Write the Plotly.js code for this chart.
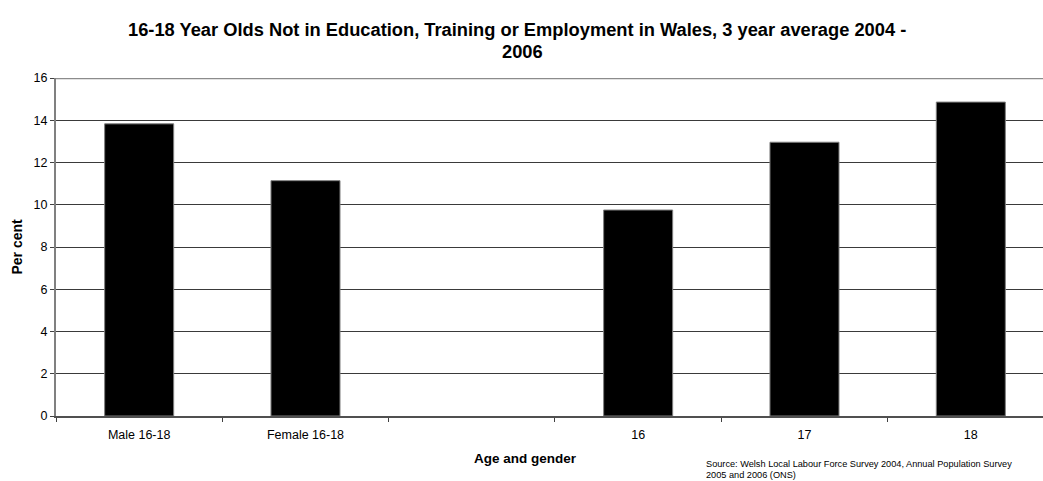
<!DOCTYPE html>
<html>
<head>
<meta charset="utf-8">
<script src="https://cdn.plot.ly/plotly-3.0.1.min.js"></script>
<style>
  html, body { margin: 0; padding: 0; background: #fff; }
  #chart { width: 1043px; height: 481px; }
</style>
</head>
<body>
<div id="chart"></div>
<script>
// Data
const categories = ["Male 16-18", "Female 16-18", " ", "16", "17", "18"];
const perCent = [13.83, 11.14, null, 9.75, 12.96, 14.86];
const yTickValues = [0, 2, 4, 6, 8, 10, 12, 14, 16];

const titleLines = ["16-18 Year Olds Not in Education, Training or Employment in Wales, 3 year average 2004 -", "2006"];
const xTitleText = "Age and gender";
const yTitleText = "Per cent";
const sourceLines = ["Source: Welsh Local Labour Force Survey 2004, Annual Population Survey", "2005 and 2006 (ONS)"];

const FONT = "Liberation Sans, Arial, sans-serif";

const trace = {
  type: "bar",
  x: categories,
  y: perCent,
  marker: { color: "#000000", line: { color: "#7f7f7f", width: 1 } },
  hoverinfo: "x+y"
};

const layout = {
  width: 1043,
  height: 481,
  paper_bgcolor: "#ffffff",
  plot_bgcolor: "#ffffff",
  font: { family: FONT, size: 12, color: "#000000" },
  margin: { l: 56, r: 0, t: 78, b: 65, pad: 0 },
  showlegend: false,
  bargap: 0.585,
  xaxis: {
    type: "category",
    categoryorder: "array",
    categoryarray: categories,
    range: [-0.5, 5.434],
    tickson: "boundaries",
    ticks: "outside",
    ticklen: 4,
    tickwidth: 1,
    tickcolor: "#404040",
    showline: true,
    linecolor: "#505050",
    linewidth: 2,
    showgrid: false,
    zeroline: false,
    ticklabelstandoff: 6,
    tickfont: { family: FONT, size: 12.5, color: "#000000" },
    fixedrange: true
  },
  yaxis: {
    range: [0, 16],
    tickvals: yTickValues,
    ticktext: yTickValues.map(String),
    ticks: "outside",
    ticklen: 4,
    tickwidth: 1,
    tickcolor: "#404040",
    showline: true,
    linecolor: "#808080",
    linewidth: 2,
    showgrid: true,
    gridcolor: "#3a3a3a",
    gridwidth: 1,
    zeroline: false,
    tickfont: { family: FONT, size: 12.5, color: "#000000" },
    fixedrange: true
  },
  shapes: [
    { type: "line", xref: "paper", yref: "y", x0: 0, x1: 1, y0: 16, y1: 16,
      line: { color: "#8c8c8c", width: 2.5 } }
  ],
  annotations: [
    { text: titleLines[0], xref: "paper", yref: "paper", x: 0.467, y: 1.143,
      xanchor: "center", yanchor: "middle", showarrow: false,
      font: { family: FONT, size: 18.3, color: "#000000", weight: "bold" } },
    { text: titleLines[1], xref: "paper", yref: "paper", x: 0.473, y: 1.078,
      xanchor: "center", yanchor: "middle", showarrow: false,
      font: { family: FONT, size: 18.3, color: "#000000", weight: "bold" } },
    { text: xTitleText, xref: "paper", yref: "paper", x: 0.4755, y: -0.125,
      xanchor: "center", yanchor: "middle", showarrow: false,
      font: { family: FONT, size: 13.5, color: "#000000", weight: "bold" } },
    { text: yTitleText, xref: "paper", yref: "paper", x: -0.040, y: 0.5,
      xanchor: "center", yanchor: "middle", showarrow: false, textangle: -90,
      font: { family: FONT, size: 14, color: "#000000", weight: "bold" } },
    { text: sourceLines[0], xref: "paper", yref: "paper", x: 0.657, y: -0.141,
      xanchor: "left", yanchor: "middle", align: "left", showarrow: false,
      font: { family: FONT, size: 9.2, color: "#000000" } },
    { text: sourceLines[1], xref: "paper", yref: "paper", x: 0.657, y: -0.176,
      xanchor: "left", yanchor: "middle", align: "left", showarrow: false,
      font: { family: FONT, size: 9.2, color: "#000000" } }
  ]
};

Plotly.newPlot("chart", [trace], layout, { displayModeBar: false, staticPlot: true });
</script>
</body>
</html>
